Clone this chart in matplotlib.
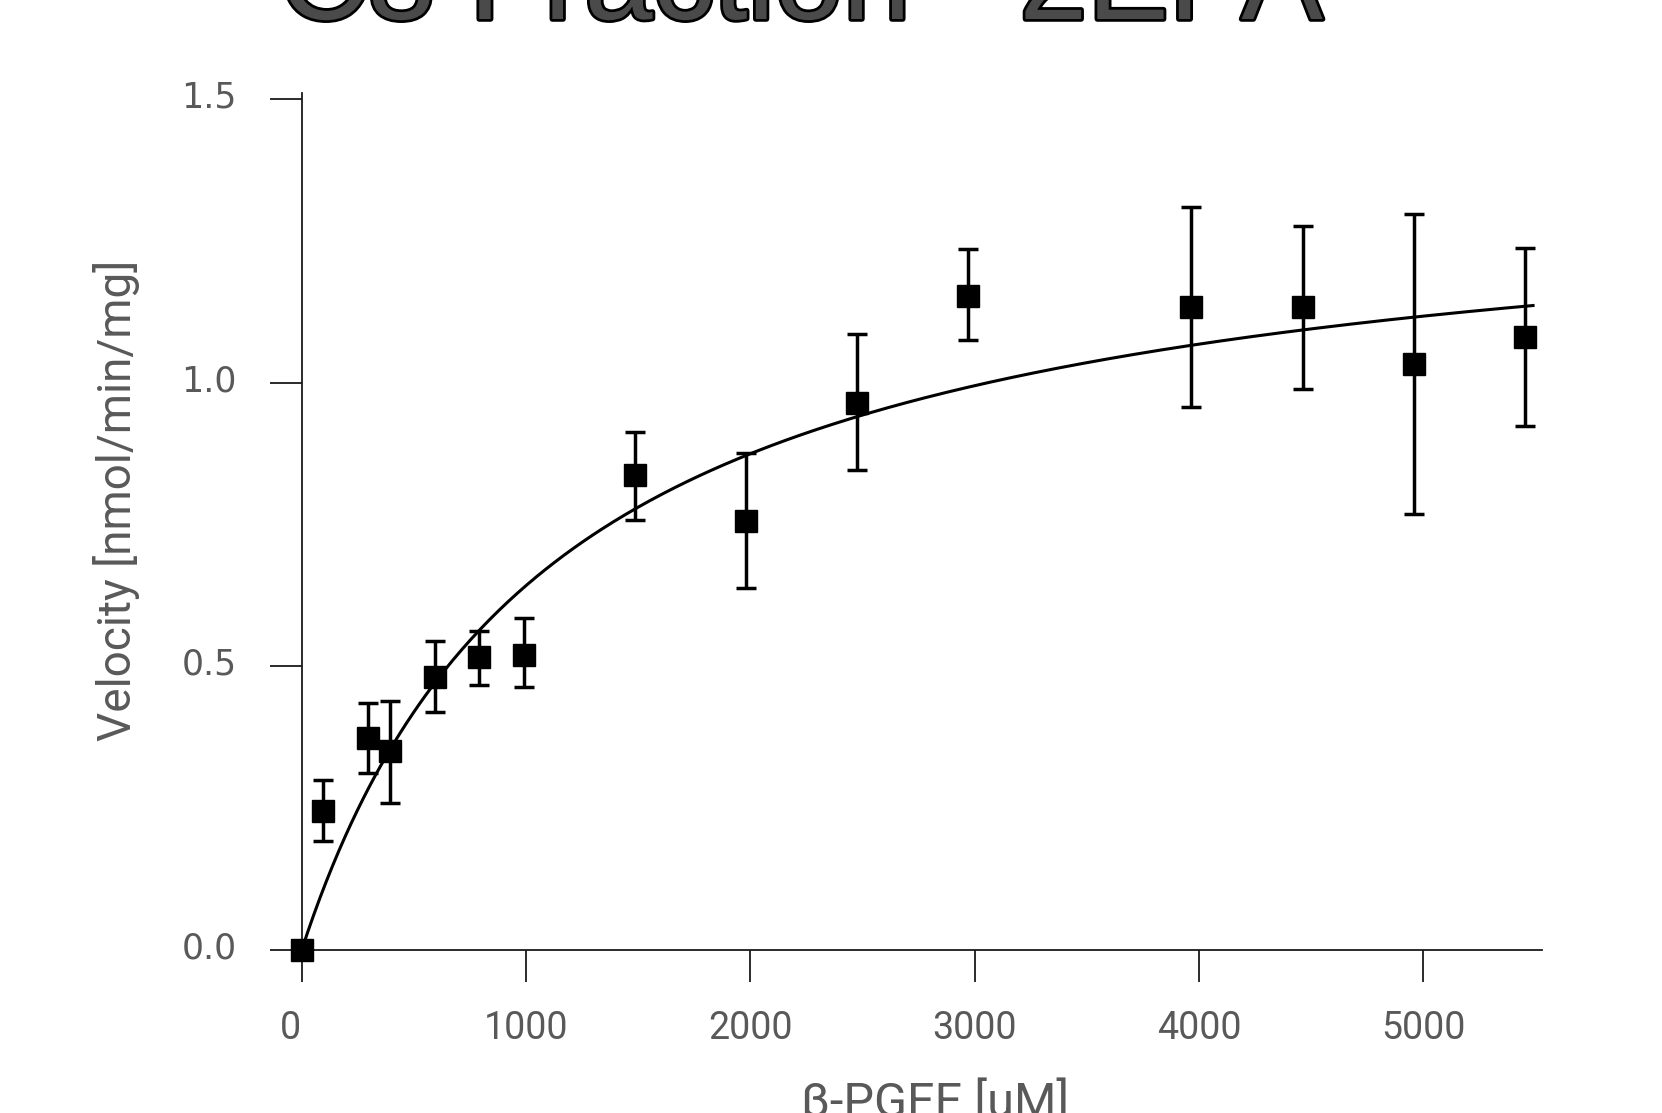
import matplotlib
matplotlib.use("Agg")
import matplotlib.pyplot as plt
import matplotlib.patheffects as pe
import matplotlib.transforms as mtransforms
import numpy as np

# Substrate concentration (uM) and measured velocity (nmol/min/mg)
substrate = [0, 96, 296, 394, 594, 792, 990, 1486, 1981, 2478, 2972, 3967, 4463, 4960, 5456]
velocity = [0.0, 0.245, 0.373, 0.350, 0.482, 0.516, 0.521, 0.837, 0.757, 0.964, 1.153,
            1.134, 1.133, 1.033, 1.081]
err_upper = [0.0, 0.300, 0.435, 0.439, 0.544, 0.563, 0.585, 0.914, 0.876, 1.086, 1.236,
             1.310, 1.277, 1.298, 1.238]
err_lower = [0.0, 0.192, 0.312, 0.260, 0.420, 0.467, 0.463, 0.759, 0.639, 0.846, 1.075,
             0.958, 0.989, 0.769, 0.924]

# Michaelis-Menten fit parameters
vmax = 1.371
km = 1134.0
fit_end = 5490

x_ticks = [0, 1000, 2000, 3000, 4000, 5000]
y_ticks = [0.0, 0.5, 1.0, 1.5]

title_text = "C8 Fraction - 2EPA"
x_label = "β-PGEE [uM]"
y_label = "Velocity [nmol/min/mg]"

label_font = "Roboto"

W, H = 1662, 1113
fig = plt.figure(figsize=(W / 100, H / 100), dpi=100)
fig.patch.set_facecolor("white")

left, right = 301.7 / W, 1542 / W
bottom, top = 1 - 950 / H, 1 - 93 / H
ax = fig.add_axes([left, bottom, right - left, top - bottom])

ax.set_xlim(0, 5530)
ax.set_ylim(0, 1.511)

# fitted curve
xs = np.linspace(0, fit_end, 400)
ax.plot(xs, vmax * xs / (km + xs), color="black", lw=2.2, zorder=2, clip_on=False)

v = np.array(velocity)
yerr = np.vstack([v - np.array(err_lower), np.array(err_upper) - v])
ax.errorbar(substrate, velocity, yerr=yerr, fmt="s", color="black", ms=16.5,
            elinewidth=2.5, capsize=7.5, capthick=2.5, zorder=3, clip_on=False)

for s in ["top", "right"]:
    ax.spines[s].set_visible(False)
for s in ["left", "bottom"]:
    ax.spines[s].set_linewidth(1.3)
    ax.spines[s].set_color("#1a1a1a")

ax.set_xticks(x_ticks)
ax.set_xticklabels([str(t) for t in x_ticks], fontfamily=label_font, fontsize=27,
                   color="#595959")
ax.set_yticks(y_ticks)
ax.set_yticklabels([f"{t:.1f}" for t in y_ticks], fontfamily="DejaVu Sans",
                   fontsize=25, color="#595959")
ax.tick_params(axis="both", direction="out", length=23, width=1.3, color="#1a1a1a")
ax.tick_params(axis="x", pad=20)
ax.tick_params(axis="y", pad=24)

# y tick labels sit slightly above their ticks
lift = mtransforms.ScaledTranslation(0, 5 / 100, fig.dpi_scale_trans)
for lab in ax.get_yticklabels():
    lab.set_transform(lab.get_transform() + lift)

# the origin label is nudged left, clear of the y axis
nudge = mtransforms.ScaledTranslation(-11 / 100, 0, fig.dpi_scale_trans)
first = ax.get_xticklabels()[0]
first.set_transform(first.get_transform() + nudge)

fig.text(935 / W, 1 - 1103 / H, x_label, fontfamily=label_font, fontsize=35,
         color="#595959", ha="center", va="center")
fig.text(117 / W, 1 - 500 / H, y_label, fontfamily=label_font, fontsize=33,
         color="#595959", ha="center", va="center", rotation=90)

fig.text(279 / W, 1 - 19 / H, title_text, fontfamily="Liberation Sans", fontsize=88,
         color="#4a4a4a", ha="left", va="baseline",
         path_effects=[pe.withStroke(linewidth=4, foreground="black")])

fig.savefig("out.png", dpi=100, facecolor="white")
